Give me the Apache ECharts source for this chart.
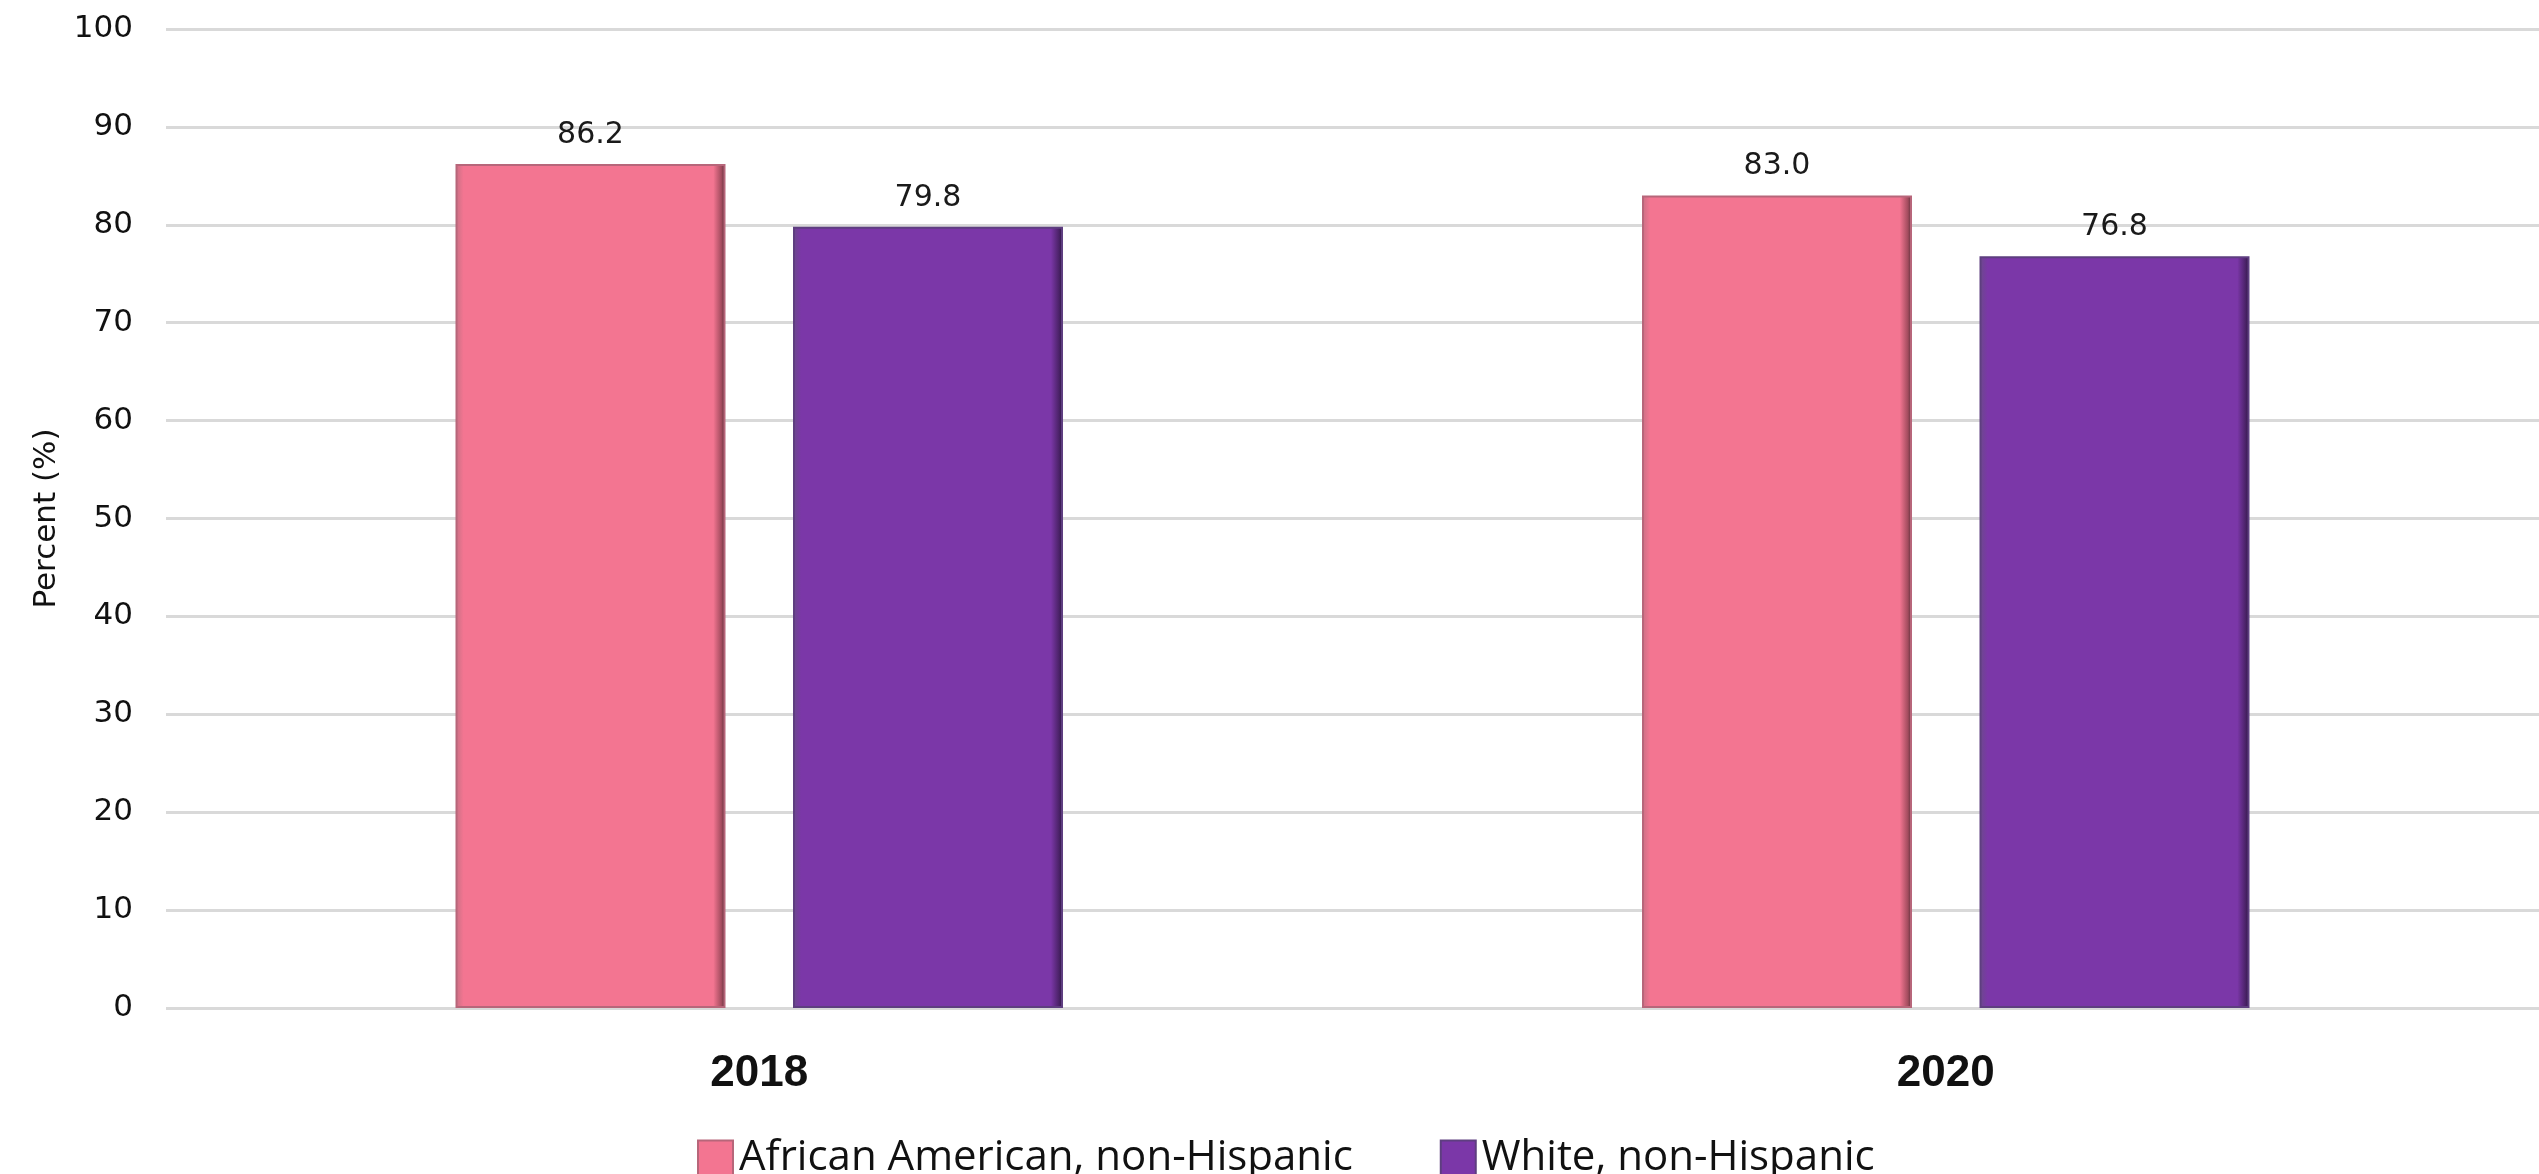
<!DOCTYPE html>
<html>
<head>
<meta charset="utf-8">
<title>Percent by year</title>
<script src="https://cdn.jsdelivr.net/npm/echarts@6/dist/echarts.min.js"></script>
<style>
  html, body { margin: 0; padding: 0; background: #ffffff; }
  #chart { width: 2539px; height: 1174px; }
</style>
</head>
<body>
<div id="chart"></div>
<script>
// Survey years on the category axis
const years = ['2018', '2020'];

// Percent values per group
const africanAmerican = [86.2, 83.0];
const white = [79.8, 76.8];

// Value axis ticks
const yMin = 0;
const yMax = 100;
const yStep = 10;

const seriesNames = ['African American, non-Hispanic', 'White, non-Hispanic'];

// Beveled fill: soft left edge, flat body, dark right edge
function bevel(left, body, rightA, rightB) {
  return new echarts.graphic.LinearGradient(0, 0, 1, 0, [
    { offset: 0, color: left },
    { offset: 0.03, color: body },
    { offset: 0.955, color: body },
    { offset: 0.985, color: rightA },
    { offset: 1, color: rightB }
  ]);
}

const pinkFill = bevel('#c77084', '#f37591', '#a24c5e', '#4e2a33');
const purpleFill = bevel('#6a4a8a', '#7b37a8', '#4b2268', '#2a1540');

const labelStyle = {
  show: true,
  position: 'top',
  distance: 14,
  fontFamily: 'DejaVu Sans',
  fontSize: 30,
  color: '#1a1a1a',
  formatter: p => p.value.toFixed(1)
};

const chart = echarts.init(document.getElementById('chart'), null, { renderer: 'canvas' });

chart.setOption({
  backgroundColor: '#ffffff',
  animation: false,
  // plot area runs slightly past the right edge of the canvas
  grid: { left: 166, width: 2382, top: 29, bottom: 166, containLabel: false },
  legend: {
    left: 692,
    top: 1132,
    itemWidth: 35,
    itemHeight: 35,
    itemGap: 87,
    icon: 'rect',
    textStyle: { fontFamily: 'Open Sans', fontSize: 42, color: '#111111', padding: [0, 0, 0, 1] },
    data: seriesNames
  },
  xAxis: {
    type: 'category',
    data: years,
    axisLine: { show: false },
    axisTick: { show: false },
    axisLabel: {
      margin: 44,
      fontFamily: 'Liberation Sans',
      fontWeight: 'bold',
      fontSize: 44,
      color: '#111111'
    }
  },
  yAxis: {
    type: 'value',
    min: yMin,
    max: yMax,
    interval: yStep,
    name: 'Percent (%)',
    nameLocation: 'middle',
    nameGap: 104,
    nameRotate: 90,
    nameTextStyle: { fontFamily: 'DejaVu Sans', fontSize: 31, color: '#111111' },
    axisLine: { show: false },
    axisTick: { show: false },
    axisLabel: { margin: 33, fontFamily: 'DejaVu Sans', fontSize: 31, color: '#111111' },
    splitLine: { show: true, lineStyle: { color: '#d9d9d9', width: 3 } }
  },
  series: [
    {
      name: seriesNames[0],
      type: 'bar',
      data: africanAmerican,
      barWidth: 270,
      barGap: '25%',
      itemStyle: { color: pinkFill, borderColor: '#b7667a', borderWidth: 2 },
      label: labelStyle
    },
    {
      name: seriesNames[1],
      type: 'bar',
      data: white,
      barWidth: 270,
      barGap: '25%',
      itemStyle: { color: purpleFill, borderColor: '#5e3e80', borderWidth: 2 },
      label: labelStyle
    }
  ]
});
</script>
</body>
</html>
